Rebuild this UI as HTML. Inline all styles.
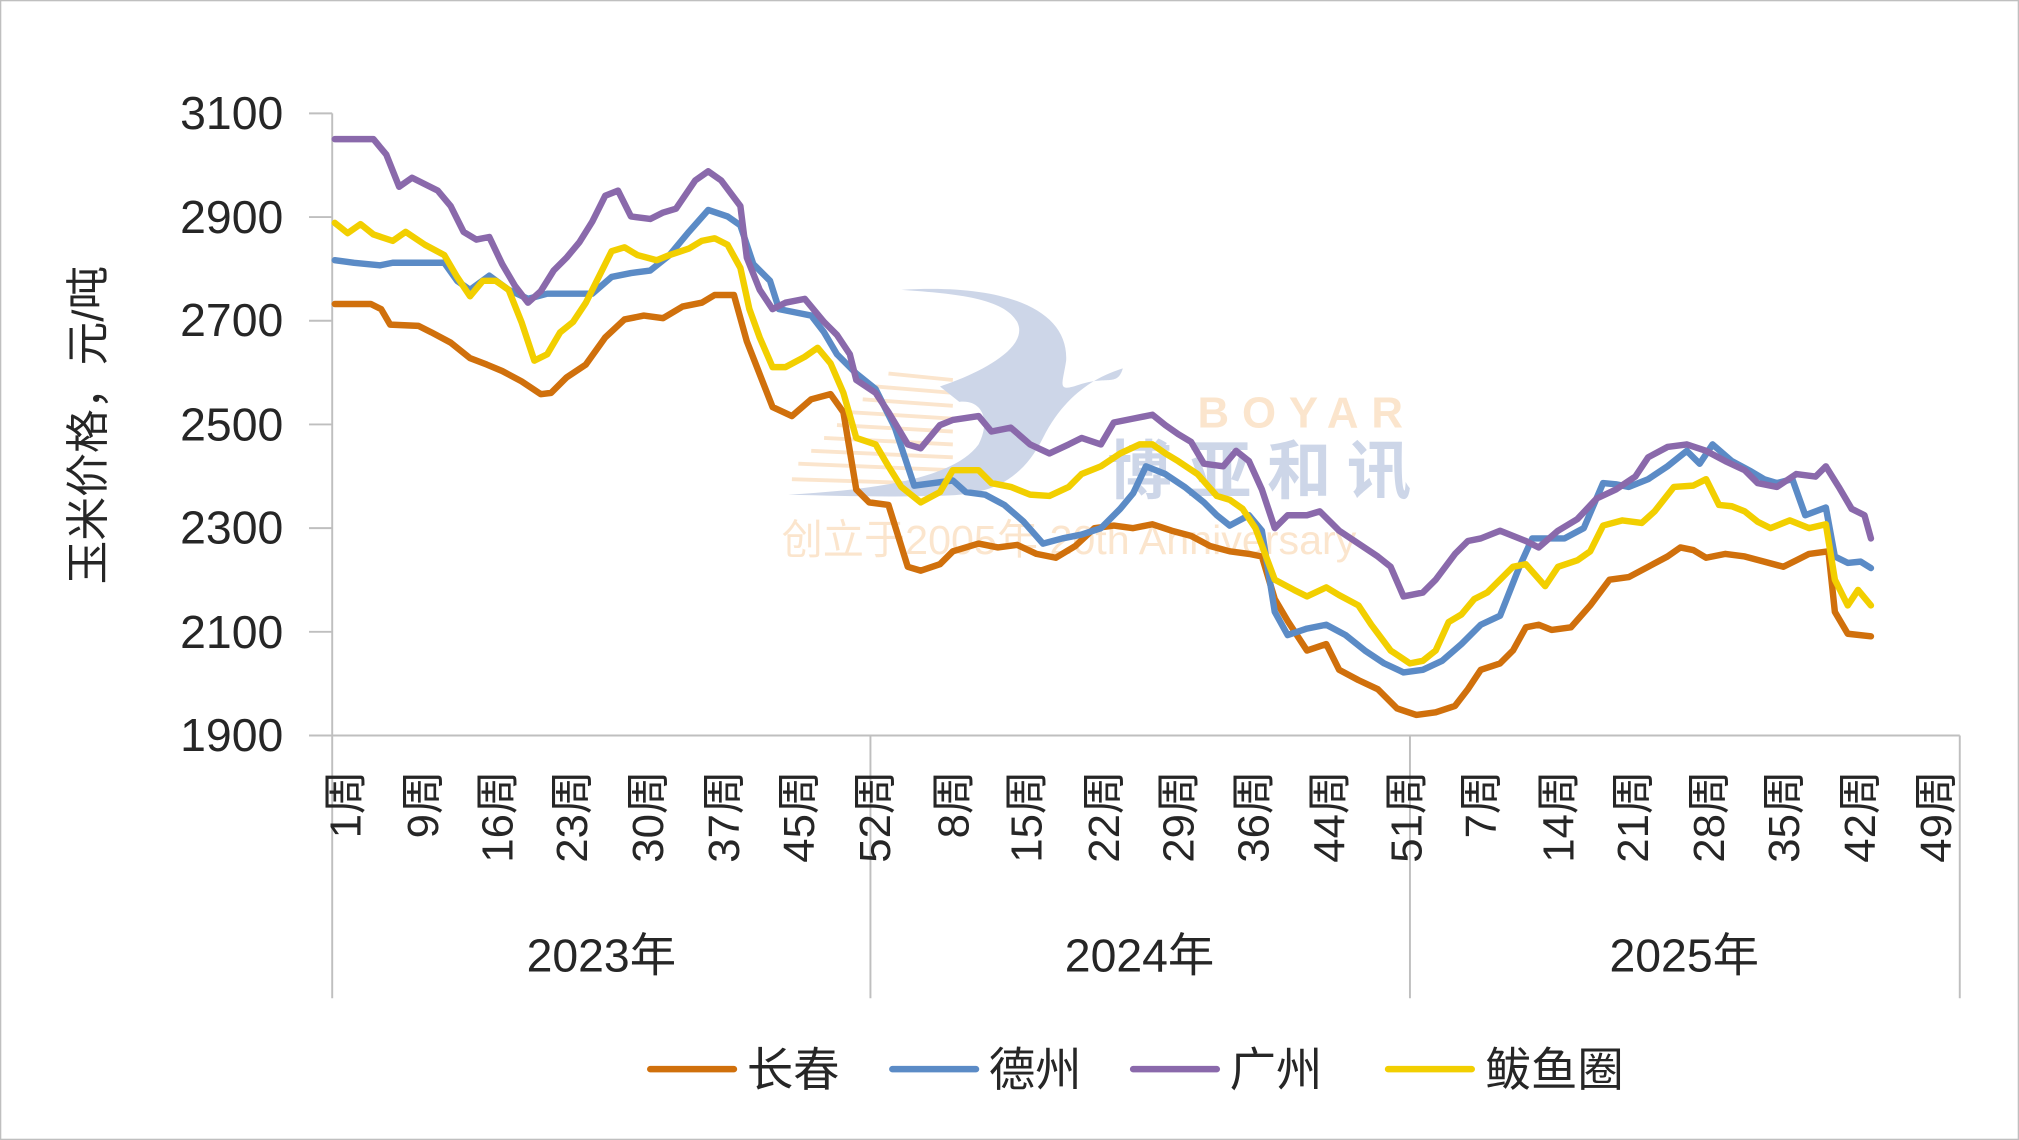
<!DOCTYPE html>
<html><head><meta charset="utf-8"><style>
html,body{margin:0;padding:0;background:#fff}
svg{display:block}
text{font-family:"Liberation Sans","Noto Sans CJK SC",sans-serif;fill:#262626}
</style></head><body>
<svg width="2019" height="1140" viewBox="0 0 1568 885" preserveAspectRatio="none" xmlns="http://www.w3.org/2000/svg">
<rect x="0.5" y="0.5" width="1567" height="884" fill="#fff" stroke="#bfbfbf" stroke-width="1"/>
<g opacity="0.9">
<g stroke="#fbe3c8" stroke-width="3">
<line x1="690" y1="290" x2="740" y2="295"/><line x1="680" y1="300" x2="740" y2="305"/><line x1="670" y1="310" x2="740" y2="315"/><line x1="660" y1="320" x2="740" y2="325"/><line x1="650" y1="330" x2="740" y2="335"/><line x1="640" y1="340" x2="740" y2="345"/><line x1="630" y1="350" x2="740" y2="355"/><line x1="620" y1="360" x2="740" y2="365"/><line x1="615" y1="372" x2="740" y2="376"/>
</g>
<path d="M700 225 C780 220 830 240 828 280 C825 300 820 305 840 298 C860 292 868 300 872 286 C860 290 830 300 810 340 C790 380 760 384 730 385 C690 386 650 385 612 384 C680 380 740 372 760 345 C770 325 762 310 745 312 L730 300 C760 290 800 270 790 250 C780 232 745 228 700 225Z" fill="#c8d2e6"/>
<text x="930" y="332" font-size="34" font-weight="bold" letter-spacing="10" style="fill:#fbe3c8">BOYAR</text>
<text x="860" y="383" font-size="50" font-weight="bold" letter-spacing="12" style="fill:#c8d2e6">博亚和讯</text>
<text x="607" y="430" font-size="32" style="fill:#fbe3c8">创立于2005年 20th Anniversary</text>
</g>
<g stroke="#bfbfbf" stroke-width="1.5" fill="none">
<line x1="258" y1="88" x2="258" y2="775"/>
<line x1="258" y1="571" x2="1522" y2="571"/>
<line x1="676" y1="571" x2="676" y2="775"/>
<line x1="1095" y1="571" x2="1095" y2="775"/>
<line x1="1522" y1="571" x2="1522" y2="775"/>
<line x1="240" y1="88" x2="258" y2="88"/><line x1="240" y1="168.5" x2="258" y2="168.5"/><line x1="240" y1="249" x2="258" y2="249"/><line x1="240" y1="329.5" x2="258" y2="329.5"/><line x1="240" y1="410" x2="258" y2="410"/><line x1="240" y1="490.5" x2="258" y2="490.5"/><line x1="240" y1="571" x2="258" y2="571"/>
</g>
<g font-size="36" text-anchor="end">
<text x="220" y="100">3100</text><text x="220" y="181">2900</text><text x="220" y="261">2700</text><text x="220" y="342">2500</text><text x="220" y="422">2300</text><text x="220" y="503">2100</text><text x="220" y="583">1900</text>
</g>
<text transform="translate(80,330) rotate(-90)" font-size="34" text-anchor="middle">玉米价格，元/吨</text>
<g font-size="34" text-anchor="end">
<text transform="translate(280,598) rotate(-90)">1周</text>
<text transform="translate(340,598) rotate(-90)">9周</text>
<text transform="translate(398,598) rotate(-90)">16周</text>
<text transform="translate(456,598) rotate(-90)">23周</text>
<text transform="translate(515,598) rotate(-90)">30周</text>
<text transform="translate(574,598) rotate(-90)">37周</text>
<text transform="translate(632,598) rotate(-90)">45周</text>
<text transform="translate(691,598) rotate(-90)">52周</text>
<text transform="translate(752,598) rotate(-90)">8周</text>
<text transform="translate(809,598) rotate(-90)">15周</text>
<text transform="translate(869,598) rotate(-90)">22周</text>
<text transform="translate(927,598) rotate(-90)">29周</text>
<text transform="translate(985,598) rotate(-90)">36周</text>
<text transform="translate(1044,598) rotate(-90)">44周</text>
<text transform="translate(1104,598) rotate(-90)">51周</text>
<text transform="translate(1162,598) rotate(-90)">7周</text>
<text transform="translate(1222,598) rotate(-90)">14周</text>
<text transform="translate(1280,598) rotate(-90)">21周</text>
<text transform="translate(1339,598) rotate(-90)">28周</text>
<text transform="translate(1397,598) rotate(-90)">35周</text>
<text transform="translate(1456,598) rotate(-90)">42周</text>
<text transform="translate(1515,598) rotate(-90)">49周</text>
</g>
<g font-size="36" text-anchor="middle">
<text x="467" y="754">2023年</text><text x="885" y="754">2024年</text><text x="1308" y="754">2025年</text>
</g>
<g fill="none" stroke-width="5" stroke-linejoin="round" stroke-linecap="round">
<polyline stroke="#D0700C" points="260,236 288,236 296,240 303,252 325,253 335,258 350,266 365,278 378,283 390,288 405,296 420,306 428,305 440,293 455,283 470,262 485,248 500,245 515,247 530,238 545,235 555,229 570,229 580,265 600,316 615,323 630,310 645,306 655,320 665,380 675,390 690,392 705,440 715,443 730,438 740,428 760,422 775,425 790,423 805,430 820,433 835,424 850,410 865,408 880,410 895,407 910,412 925,416 940,424 955,428 970,430 980,432 990,465 1000,482 1015,505 1030,500 1040,520 1055,528 1070,535 1085,550 1100,555 1115,553 1130,548 1140,535 1150,520 1165,515 1175,505 1185,487 1195,485 1205,489 1220,487 1235,470 1250,450 1265,448 1280,440 1295,432 1305,425 1315,427 1325,433 1340,430 1355,432 1370,436 1385,440 1395,435 1405,430 1420,428 1425,475 1435,492 1453,494"/>
<polyline stroke="#5B8BC6" points="260,202 275,204 295,206 305,204 345,204 355,218 365,225 380,214 395,225 410,232 425,228 460,228 475,215 490,212 505,210 520,198 535,180 550,163 565,168 575,175 585,205 598,218 605,240 620,243 630,245 640,258 650,275 665,290 680,302 695,332 710,377 725,375 740,373 750,382 765,384 780,392 795,405 810,422 825,418 840,415 855,410 870,395 880,383 890,362 905,368 920,378 935,390 945,400 955,408 970,400 980,412 990,475 1000,493 1015,488 1030,485 1045,493 1060,505 1075,515 1090,522 1105,520 1120,513 1135,500 1150,485 1165,478 1180,440 1190,418 1200,418 1215,418 1230,410 1245,375 1255,376 1265,378 1280,372 1295,362 1310,350 1320,360 1330,345 1345,358 1360,366 1370,372 1380,375 1392,372 1402,400 1418,394 1425,432 1435,437 1445,436 1453,441"/>
<polyline stroke="#8A69AB" points="260,108 290,108 300,120 310,145 320,138 340,148 350,160 360,180 370,186 380,184 390,205 400,222 410,235 420,226 430,210 440,200 450,188 460,172 470,152 480,148 490,168 505,170 515,165 525,162 540,140 550,133 560,140 575,160 580,200 590,225 600,240 610,235 625,232 640,250 650,260 660,275 665,295 680,305 690,320 705,345 715,348 730,330 740,326 760,323 770,335 785,332 800,345 815,352 830,345 840,340 855,345 865,328 880,325 895,322 905,330 915,337 925,343 935,360 950,362 960,350 970,358 980,380 990,410 1000,400 1015,400 1025,397 1040,412 1055,422 1070,432 1080,440 1090,463 1105,460 1115,450 1130,430 1140,420 1150,418 1165,412 1185,420 1195,425 1210,412 1225,403 1240,387 1255,380 1270,370 1280,355 1295,347 1310,345 1325,350 1340,358 1355,365 1365,375 1380,378 1395,368 1410,370 1418,362 1428,378 1438,395 1448,400 1453,418"/>
<polyline stroke="#F2CF00" points="260,173 270,181 280,174 290,182 305,187 315,180 330,190 345,198 355,215 365,230 375,218 385,218 395,225 405,250 415,280 425,275 435,258 445,250 455,235 465,215 475,195 485,192 495,198 510,202 520,198 535,193 545,187 555,185 565,190 575,208 582,240 590,262 600,285 610,285 625,277 635,270 645,282 655,305 665,340 680,345 690,362 700,378 715,390 730,382 740,365 760,365 770,375 785,378 800,384 815,385 830,378 840,368 855,362 870,352 885,345 895,345 905,352 915,358 930,368 945,385 955,388 965,395 975,410 990,450 1005,458 1015,463 1030,456 1040,462 1055,470 1065,485 1080,505 1095,515 1105,513 1115,505 1125,483 1135,477 1145,465 1155,460 1165,450 1175,440 1185,438 1200,455 1210,440 1225,435 1235,428 1245,408 1260,404 1275,406 1285,397 1300,378 1315,377 1325,372 1335,392 1345,393 1355,397 1365,405 1375,410 1390,404 1405,410 1418,407 1425,450 1435,470 1443,458 1453,470"/>
</g>
<g stroke-width="5" stroke-linecap="round">
<line x1="505" y1="830" x2="570" y2="830" stroke="#D0700C"/>
<line x1="693" y1="830" x2="758" y2="830" stroke="#5B8BC6"/>
<line x1="880" y1="830" x2="945" y2="830" stroke="#8A69AB"/>
<line x1="1078" y1="830" x2="1143" y2="830" stroke="#F2CF00"/>
</g>
<g font-size="36">
<text x="580" y="843">长春</text><text x="768" y="843">德州</text><text x="955" y="843">广州</text><text x="1153" y="843">鲅鱼圈</text>
</g>
</svg>
</body></html>
